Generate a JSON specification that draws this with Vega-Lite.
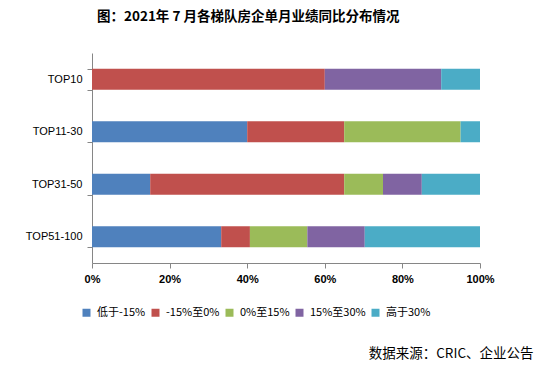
{
  "$schema": "https://vega.github.io/schema/vega-lite/v6.json",
  "width": 388,
  "height": 210,
  "autosize": "none",
  "padding": {"left": 92, "top": 53, "right": 70, "bottom": 107},
  "background": "white",
  "title": {
    "text": "图：2021年 7 月各梯队房企单月业绩同比分布情况",
    "font": "Noto Sans CJK SC",
    "fontSize": 13.5,
    "fontWeight": "bold",
    "color": "#000000",
    "anchor": "start",
    "frame": "group",
    "dx": 5,
    "offset": 24
  },
  "data": {
    "values": [
      {"tier": "TOP10", "range": "低于-15%", "order": 1, "value": 0},
      {"tier": "TOP10", "range": "-15%至0%", "order": 2, "value": 60},
      {"tier": "TOP10", "range": "0%至15%", "order": 3, "value": 0},
      {"tier": "TOP10", "range": "15%至30%", "order": 4, "value": 30},
      {"tier": "TOP10", "range": "高于30%", "order": 5, "value": 10},
      {"tier": "TOP11-30", "range": "低于-15%", "order": 1, "value": 40},
      {"tier": "TOP11-30", "range": "-15%至0%", "order": 2, "value": 25},
      {"tier": "TOP11-30", "range": "0%至15%", "order": 3, "value": 30},
      {"tier": "TOP11-30", "range": "15%至30%", "order": 4, "value": 0},
      {"tier": "TOP11-30", "range": "高于30%", "order": 5, "value": 5},
      {"tier": "TOP31-50", "range": "低于-15%", "order": 1, "value": 15},
      {"tier": "TOP31-50", "range": "-15%至0%", "order": 2, "value": 50},
      {"tier": "TOP31-50", "range": "0%至15%", "order": 3, "value": 10},
      {"tier": "TOP31-50", "range": "15%至30%", "order": 4, "value": 10},
      {"tier": "TOP31-50", "range": "高于30%", "order": 5, "value": 15},
      {"tier": "TOP51-100", "range": "低于-15%", "order": 1, "value": 33.3},
      {"tier": "TOP51-100", "range": "-15%至0%", "order": 2, "value": 7.4},
      {"tier": "TOP51-100", "range": "0%至15%", "order": 3, "value": 14.8},
      {"tier": "TOP51-100", "range": "15%至30%", "order": 4, "value": 14.8},
      {"tier": "TOP51-100", "range": "高于30%", "order": 5, "value": 29.7}
    ]
  },
  "mark": {"type": "bar"},
  "encoding": {
    "y": {
      "field": "tier",
      "type": "nominal",
      "sort": ["TOP10", "TOP11-30", "TOP31-50", "TOP51-100"],
      "scale": {"paddingInner": 0.6, "paddingOuter": 0.3},
      "axis": {
        "title": null,
        "tickBand": "extent",
        "domainColor": "#868686",
        "tickColor": "#868686",
        "tickSize": 5,
        "labelPadding": 5,
        "labelFont": "Liberation Sans",
        "labelFontSize": 11,
        "labelColor": "#000000",
        "grid": false
      }
    },
    "x": {
      "field": "value",
      "type": "quantitative",
      "stack": "normalize",
      "scale": {"domain": [0, 1], "nice": false},
      "axis": {
        "format": ".0%",
        "values": [0, 0.2, 0.4, 0.6, 0.8, 1],
        "grid": false,
        "domainColor": "#868686",
        "tickColor": "#868686",
        "tickSize": 5,
        "labelPadding": 5,
        "labelFont": "Liberation Sans",
        "labelFontSize": 11,
        "labelFontWeight": "bold",
        "labelColor": "#000000",
        "labelFlush": false,
        "title": "数据来源：CRIC、企业公告",
        "titleFont": "Noto Sans CJK SC",
        "titleFontSize": 13.5,
        "titleFontWeight": "normal",
        "titleColor": "#000000",
        "titleAlign": "right",
        "titleBaseline": "middle",
        "titleX": 441,
        "titleY": 90
      }
    },
    "color": {
      "field": "range",
      "type": "nominal",
      "sort": ["低于-15%", "-15%至0%", "0%至15%", "15%至30%", "高于30%"],
      "scale": {
        "domain": ["低于-15%", "-15%至0%", "0%至15%", "15%至30%", "高于30%"],
        "range": ["#4F81BD", "#C0504D", "#9BBB59", "#8064A2", "#4BACC6"]
      },
      "legend": {
        "title": null,
        "orient": "none",
        "direction": "horizontal",
        "legendX": -11,
        "legendY": 254,
        "symbolType": "square",
        "symbolSize": 64,
        "symbolStrokeWidth": 0,
        "labelFont": "Noto Sans CJK SC",
        "labelFontSize": 11,
        "labelColor": "#000000",
        "labelOffset": 5,
        "columnPadding": 4
      }
    },
    "order": {"field": "order", "type": "quantitative"}
  },
  "config": {
    "view": {"stroke": null}
  }
}
